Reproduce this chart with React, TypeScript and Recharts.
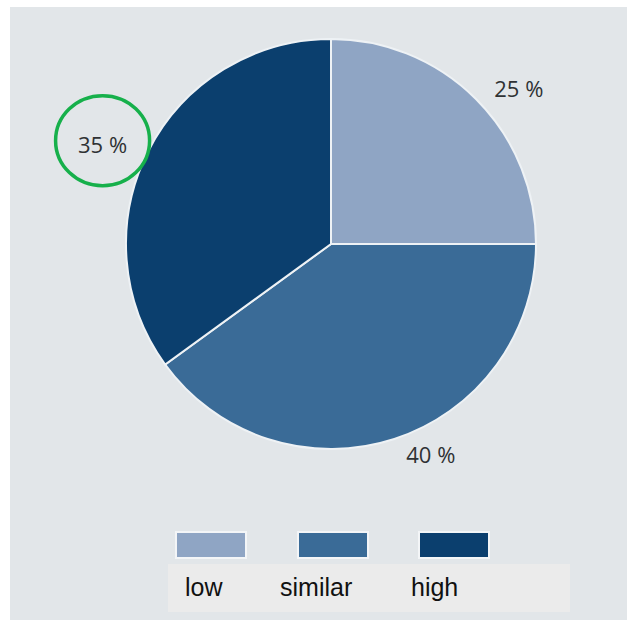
import { PieChart, Pie, Cell, Legend } from "recharts";

const categories = ["low", "similar", "high"];
const shares = [25, 40, 35];
const colors = ["#8fa5c4", "#3a6b97", "#0b3f6e"];
const highlighted = "high";

const data = categories.map((name, i) => ({ name, value: shares[i] }));

const RADIAN = Math.PI / 180;

function renderLabel(props: any) {
  const { cx, cy, midAngle, outerRadius, value, name } = props;
  const r = outerRadius + 16;
  const px = cx + r * Math.cos(-midAngle * RADIAN);
  const y = cy + r * Math.sin(-midAngle * RADIAN);
  const right = px >= cx;
  const x = right ? px + 7 : px - 7;
  const textW = 49;
  const circleX = right ? x + textW / 2 : x - textW / 2;
  return (
    <g>
      {name === highlighted && (
        <ellipse
          cx={circleX}
          cy={y - 3}
          rx={47}
          ry={45}
          fill="none"
          stroke="#16b04b"
          strokeWidth={3.5}
        />
      )}
      <text
        x={x}
        y={y}
        textAnchor={right ? "start" : "end"}
        dominantBaseline="central"
        fill="#2f3234"
        fontSize={22}
        fontFamily="'Open Sans', sans-serif"
      >
        {`${value} %`}
      </text>
    </g>
  );
}

function renderLegend() {
  return (
    <div style={{ position: "relative", width: 617, height: 96 }}>
      <div
        style={{
          position: "absolute",
          left: 158,
          top: 40,
          width: 402,
          height: 48,
          background: "#ebebeb",
        }}
      />
      {categories.map((name, i) => (
        <div key={name}>
          <div
            style={{
              position: "absolute",
              left: 165 + i * 121.5,
              top: 7,
              width: 68,
              height: 24,
              background: colors[i],
              border: "2px solid #f3f5f7",
            }}
          />
          <div
            style={{
              position: "absolute",
              left: [175, 270, 401][i],
              top: 48,
              fontSize: 25,
              fontFamily: "'Liberation Sans', Arial, sans-serif",
              color: "#111",
              lineHeight: "30px",
            }}
          >
            {name}
          </div>
        </div>
      ))}
    </div>
  );
}

export default function App() {
  return (
    <div
      style={{
        position: "absolute",
        left: 0,
        top: 0,
        width: 627,
        height: 620,
        background: "#ffffff",
      }}
    >
      <div
        style={{
          position: "absolute",
          left: 10,
          top: 7,
          width: 617,
          height: 613,
          background: "#e2e6e9",
        }}
      >
        <PieChart width={617} height={613}>
          <Pie
            data={data}
            dataKey="value"
            nameKey="name"
            cx={316}
            cy={232}
            outerRadius={205}
            startAngle={90}
            endAngle={-270}
            stroke="#eef2f5"
            strokeWidth={2}
            label={renderLabel}
            labelLine={false}
            isAnimationActive={false}
          >
            {data.map((d, i) => (
              <Cell key={d.name} fill={colors[i]} />
            ))}
          </Pie>
          <Legend
            content={renderLegend}
            wrapperStyle={{ position: "absolute", left: 0, top: 517, width: 617 }}
          />
        </PieChart>
      </div>
    </div>
  );
}
